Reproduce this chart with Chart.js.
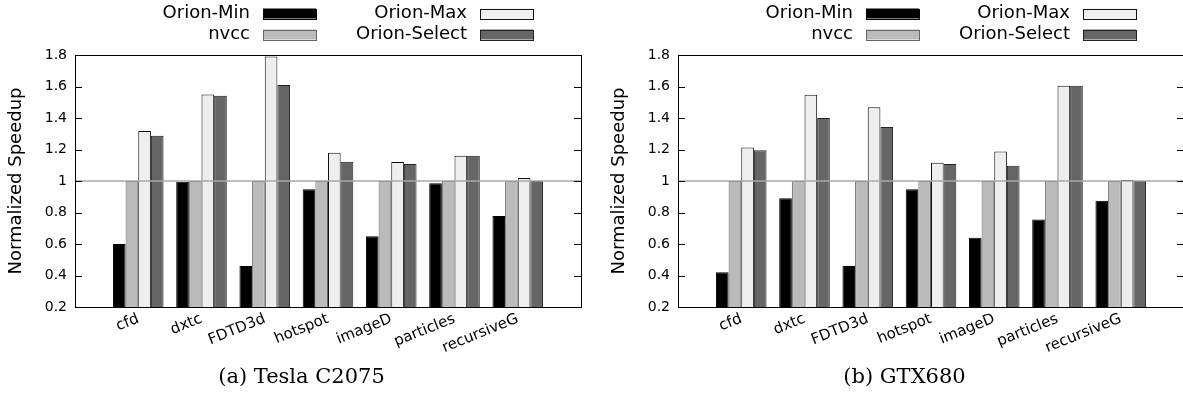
<!DOCTYPE html>
<html>
<head>
<meta charset="utf-8">
<script src="https://cdn.jsdelivr.net/npm/chart.js@4"></script>
<style>
  html, body { margin: 0; padding: 0; background: #fff; overflow: hidden; }
  #wrap { position: relative; width: 1183px; height: 397px; overflow: hidden; }
  .panel { position: absolute; top: 0; width: 603px; height: 397px; }
  #left { left: 0; }
  #right { left: 603px; }
</style>
</head>
<body>
<div id="wrap">
  <div class="panel" id="left"><canvas id="teslaChart" width="603" height="397"></canvas></div>
  <div class="panel" id="right"><canvas id="gtxChart" width="603" height="397"></canvas></div>
</div>
<script>
const benchmarks = ['cfd', 'dxtc', 'FDTD3d', 'hotspot', 'imageD', 'particles', 'recursiveG'];
const seriesNames = ['Orion-Min', 'nvcc', 'Orion-Max', 'Orion-Select'];
const yTicks = { min: 0.2, max: 1.8, step: 0.2 };
const referenceLine = 1;

// (a) Tesla C2075
const teslaMin    = [0.60, 0.995, 0.46, 0.947, 0.649, 0.985, 0.778];
const teslaNvcc   = [1, 1, 1, 1, 1, 1, 1];
const teslaMax    = [1.317, 1.549, 1.79, 1.18, 1.121, 1.161, 1.019];
const teslaSelect = [1.288, 1.541, 1.61, 1.123, 1.108, 1.161, 1.0];

// (b) GTX680
const gtxMin    = [0.42, 0.89, 0.46, 0.947, 0.64, 0.755, 0.875];
const gtxNvcc   = [1, 1, 1, 1, 1, 1, 1];
const gtxMax    = [1.212, 1.547, 1.468, 1.116, 1.188, 1.605, 1.006];
const gtxSelect = [1.195, 1.40, 1.343, 1.108, 1.097, 1.605, 1.0];

const fills   = ['#000000', '#bbbbbb', '#eeeeee', '#666666'];
const borders = ['#000000', '#666666', '#111111', '#222222'];

Chart.defaults.font.family = '"DejaVu Sans", sans-serif';
Chart.defaults.color = '#000';

// pad one empty slot each side so the x range runs from -1 to 7
const padded = arr => [null, ...arr, null];

const framePlugin = {
  id: 'frame',
  afterDatasetsDraw(chart) {
    const { ctx, chartArea: a, scales: { y } } = chart;
    const py = y.getPixelForValue(referenceLine);
    ctx.save();
    ctx.strokeStyle = '#a8a8a8';
    ctx.lineWidth = 1.5;
    ctx.beginPath();
    ctx.moveTo(a.left, py);
    ctx.lineTo(a.right, py);
    ctx.stroke();
    ctx.restore();
  },
  afterDraw(chart) {
    const { ctx, chartArea: a, scales: { y } } = chart;
    ctx.save();
    ctx.strokeStyle = '#000';
    ctx.lineWidth = 1;
    ctx.strokeRect(Math.round(a.left) + 0.5, Math.round(a.top) + 0.5,
                   Math.round(a.right - a.left), Math.round(a.bottom - a.top));
    y.ticks.forEach(t => {
      const py = Math.round(y.getPixelForValue(t.value)) + 0.5;
      ctx.beginPath();
      ctx.moveTo(a.left, py); ctx.lineTo(a.left + 7, py);
      ctx.moveTo(a.right, py); ctx.lineTo(a.right - 7, py);
      ctx.stroke();
    });

    // two-column key, text to the left of the swatch
    const textRight = [250, 467];
    const boxLeft = [263, 480];
    const rowY = [13.5, 34.5];
    ctx.font = '18px "DejaVu Sans"';
    ctx.textAlign = 'right';
    ctx.textBaseline = 'middle';
    chart.data.datasets.forEach((ds, i) => {
      const col = Math.floor(i / 2), row = i % 2;
      ctx.fillStyle = '#000';
      ctx.fillText(ds.label, textRight[col], rowY[row]);
      ctx.fillStyle = ds.backgroundColor;
      ctx.fillRect(boxLeft[col], rowY[row] - 5, 53, 10);
      ctx.strokeStyle = ds.borderColor;
      ctx.strokeRect(boxLeft[col] + 0.5, Math.round(rowY[row] - 5) + 0.5, 53, 10);
    });
    ctx.restore();
  }
};

function makeChart(canvasId, caption, series) {
  const ctx = document.getElementById(canvasId).getContext('2d');
  return new Chart(ctx, {
    type: 'bar',
    data: {
      labels: padded(benchmarks).map(b => b || ''),
      datasets: series.map((values, i) => ({
        label: seriesNames[i],
        data: padded(values),
        backgroundColor: fills[i],
        borderColor: borders[i],
        borderWidth: 1,
        categoryPercentage: 0.8,
        barPercentage: 1.0
      }))
    },
    options: {
      responsive: false,
      animation: false,
      layout: { padding: { top: 55, left: 0, right: 0, bottom: 0 } },
      plugins: {
        legend: { display: false },
        tooltip: { enabled: false },
        title: {
          display: true,
          position: 'bottom',
          text: caption,
          color: '#000',
          font: { family: '"DejaVu Serif", serif', size: 21, weight: 'normal' },
          padding: { top: 0, bottom: 7 }
        }
      },
      scales: {
        x: {
          type: 'category',
          offset: false,
          grid: { display: false, drawTicks: false },
          border: { display: false },
          ticks: { autoSkip: false, minRotation: 22, maxRotation: 22, padding: 3, font: { size: 15 } },
          afterFit(scale) { scale.height = 57.8; }
        },
        y: {
          min: yTicks.min,
          max: yTicks.max,
          grid: { display: false, drawTicks: false },
          border: { display: false },
          ticks: {
            stepSize: yTicks.step,
            padding: 8,
            font: { size: 14 },
            callback: v => String(+v.toFixed(1))
          },
          title: {
            display: true,
            text: 'Normalized Speedup',
            font: { size: 18 },
            padding: { top: 6, bottom: 0 }
          },
          afterFit(scale) { scale.width = 75; }
        },
        y2: {
          position: 'right',
          grid: { display: false, drawTicks: false },
          border: { display: false },
          ticks: { display: false },
          afterFit(scale) { scale.width = 22; }
        }
      }
    },
    plugins: [framePlugin]
  });
}

makeChart('teslaChart', '(a) Tesla C2075', [teslaMin, teslaNvcc, teslaMax, teslaSelect]);
makeChart('gtxChart', '(b) GTX680', [gtxMin, gtxNvcc, gtxMax, gtxSelect]);
</script>
</body>
</html>
